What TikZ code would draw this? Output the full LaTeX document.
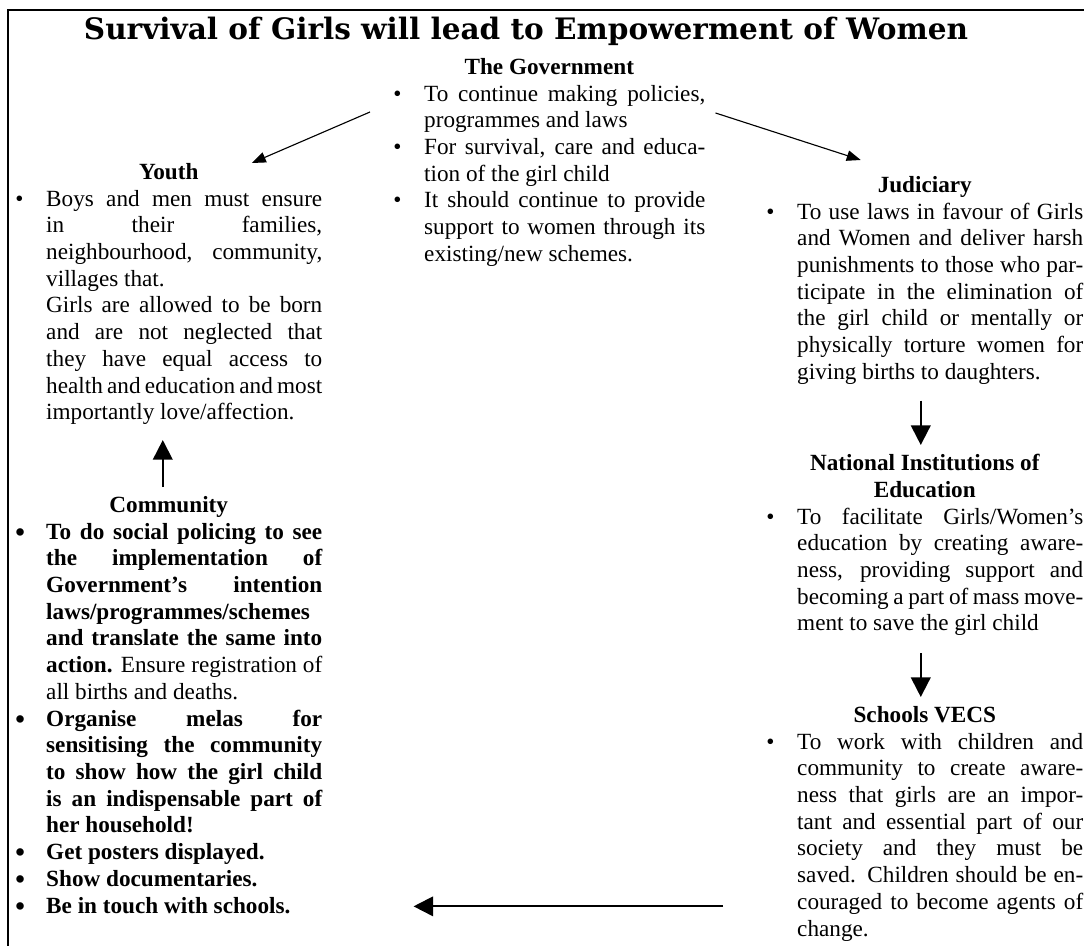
\documentclass[tikz,border=0pt]{standalone}
\usepackage{fontspec}
\setmainfont{Liberation Serif}
\newfontfamily\titlefont{DejaVu Serif}
\usetikzlibrary{arrows.meta}

\newlength{\bulind}
\setlength{\bulind}{22pt}
\newcommand{\bodyfont}{\fontsize{16.5}{19}\selectfont\spaceskip=0.25em plus 0.6em minus 0.12em\relax}
\newcommand{\head}[1]{{\centering\bfseries #1\par}}
\newcommand{\bulitem}[2][\textbullet]{\par\noindent\hangindent=\bulind\hangafter=1\makebox[\bulind][l]{#1}#2\par}
\newcommand{\bigdot}{\raisebox{-1.5pt}[0pt][0pt]{\fontsize{19.5}{19}\selectfont\textbullet}}

\begin{document}
\begin{tikzpicture}[
  block/.style={anchor=north west, inner sep=0pt, align=justify, font=\bodyfont},
  govarrow/.style={-{Triangle[length=10pt,width=7.5pt]}, line width=0.8pt},
  flowarrow/.style={-{Triangle[length=14pt,width=14pt]}, line width=1.4pt}
]
  \useasboundingbox (0,0) rectangle (27.1,-23.65);
  \draw[line width=2pt] (0.2,-23.65) -- (0.2,-0.25) -- (27.1,-0.25);

  \node[anchor=base, inner sep=0pt, font={\titlefont\fontsize{21}{24}\selectfont\bfseries}] (title) at (13.15,-1.0)
    {Survival of Girls will lead to Empowerment of Women};

  \node[block, text width=7.8cm] (gov) at (9.825,-1.45) {\head{The Government}
    \bulitem{To continue making policies,\linebreak programmes and laws}
    \bulitem{For survival, care and educa-\linebreak tion of the girl child}
    \bulitem{It should continue to provide\linebreak support to women through its\linebreak existing/new schemes.}};

  \node[block, text width=7.675cm] (youth) at (0.375,-4.075) {\head{Youth}
    \bulitem{Boys and men must ensure\linebreak in their families,\linebreak neighbourhood, community,\linebreak villages that.\newline
      Girls are allowed to be born\linebreak and are not neglected that\linebreak they have equal access to\linebreak health and education and most\linebreak importantly love/affection.}};

  \node[block, text width=7.675cm] (community) at (0.375,-12.4) {\bfseries\head{Community}
    \bulitem[\bigdot]{To do social policing to see\linebreak the implementation of\linebreak Government's intention\linebreak laws/programmes/schemes\linebreak and translate the same into\linebreak action. \textnormal{Ensure registration of\linebreak all births and deaths.}}
    \bulitem[\bigdot]{Organise melas for\linebreak sensitising the community\linebreak to show how the girl child\linebreak is an indispensable part of\linebreak her household!}
    \bulitem[\bigdot]{Get posters displayed.}
    \bulitem[\bigdot]{Show documentaries.}
    \bulitem[\bigdot]{Be in touch with schools.}};

  \node[block, text width=7.925cm] (judiciary) at (19.15,-4.4) {\head{Judiciary}
    \bulitem{To use laws in favour of Girls\linebreak and Women and deliver harsh\linebreak punishments to those who par-\linebreak ticipate in the elimination of\linebreak the girl child or mentally or\linebreak physically torture women for\linebreak giving births to daughters.}};

  \node[block, text width=7.925cm] (national) at (19.15,-11.35) {\head{National Institutions of\\Education}
    \bulitem{To facilitate Girls/Women's\linebreak education by creating aware-\linebreak ness, providing support and\linebreak becoming a part of mass move-\linebreak ment to save the girl child}};

  \node[block, text width=7.925cm] (schools) at (19.15,-17.65) {\head{Schools VECS}
    \bulitem{To work with children and\linebreak community to create aware-\linebreak ness that girls are an impor-\linebreak tant and essential part of our\linebreak society and they must be\linebreak saved. Children should be en-\linebreak couraged to become agents of\linebreak change.}};

  \coordinate (vecsout) at ([shift={(-1.075,0.875)}]schools.south west);
  \draw[govarrow] ([shift={(-0.575,-1.35)}]gov.north west) -- ([shift={(2.075,0)}]youth.north);
  \draw[govarrow] ([shift={(0.25,-1.375)}]gov.north east) -- ([shift={(-1.6,0.4)}]judiciary.north);
  \draw[flowarrow] ([shift={(-0.1,-0.4)}]judiciary.south) -- ([shift={(-0.1,0.225)}]national.north);
  \draw[flowarrow] ([shift={(-0.1,-0.425)}]national.south) -- ([shift={(-0.1,0.225)}]schools.north);
  \draw[flowarrow] (vecsout) -- ([xshift=2.275cm]community.east |- vecsout);
  \draw[flowarrow] ([shift={(-0.15,0.225)}]community.north) -- ([shift={(-0.15,-0.375)}]youth.south);
\end{tikzpicture}
\end{document}
